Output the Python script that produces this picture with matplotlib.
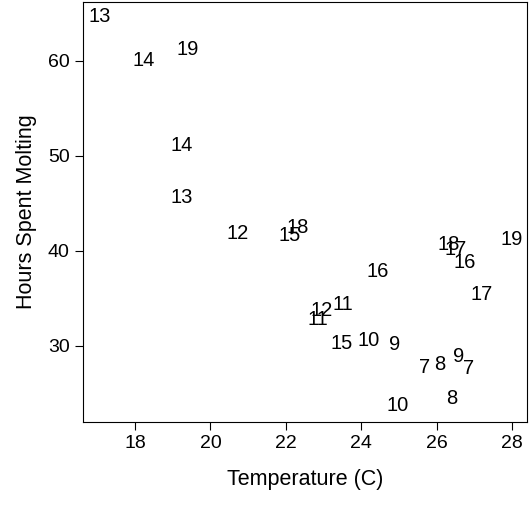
import matplotlib
matplotlib.use("Agg")
from matplotlib import pyplot as plt

plt.rcParams["font.family"] = ["Liberation Sans", "DejaVu Sans"]

temp = [17.07, 18.24, 19.41, 19.25, 19.25, 20.71, 22.11, 22.32, 24.45, 26.33,
        26.51, 28.0, 26.75, 27.2, 22.85, 22.96, 23.52, 23.49, 24.2, 24.9,
        25.67, 26.09, 26.59, 26.86, 24.98, 26.41]
hours = [64.7, 60.0, 61.2, 51.05, 45.6, 41.8, 41.6, 42.5, 37.8, 40.7,
         40.2, 41.2, 38.8, 35.4, 32.8, 33.7, 34.4, 30.3, 30.6, 30.2,
         27.7, 28.0, 28.9, 27.6, 23.7, 24.5]
labels = ["13", "14", "19", "14", "13", "12", "15", "18", "16", "18",
          "17", "19", "16", "17", "11", "12", "11", "15", "10", "9",
          "7", "8", "9", "7", "10", "8"]

fig = plt.figure(figsize=(5.29, 5.05), dpi=100)
ax = fig.add_axes([83 / 529, 83 / 505, 444 / 529, 420 / 505])
for x, y, s in zip(temp, hours, labels):
    ax.text(x, y, s, ha="center", va="center", fontsize=14.5)

ax.set_xlim(16.62, 28.4)
ax.set_ylim(22.0, 66.2)
ax.set_xticks([18, 20, 22, 24, 26, 28])
ax.set_yticks([30, 40, 50, 60])
ax.tick_params(axis="both", labelsize=14, direction="out", length=6)
ax.set_xlabel("Temperature (C)", fontsize=15.5, labelpad=12)
ax.set_ylabel("Hours Spent Molting", fontsize=15.5, labelpad=8)
fig.savefig("out.png", dpi=100)
